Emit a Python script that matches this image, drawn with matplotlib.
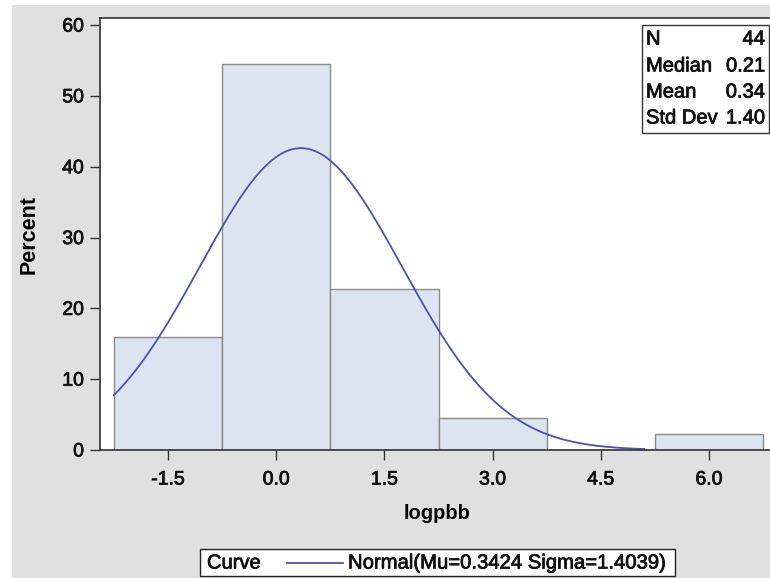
import numpy as np
import matplotlib
matplotlib.use("Agg")
import matplotlib.pyplot as plt
import matplotlib.patheffects as pe
from matplotlib.patches import Rectangle
from matplotlib.lines import Line2D

# ---- data ----
bin_centers = [-1.5, 0.0, 1.5, 3.0, 4.5, 6.0]
bin_width = 1.5
percents = [15.91, 54.55, 22.73, 4.55, 0.0, 2.27]
mu = 0.3424
sigma = 1.4039
curve_end = 5.1
stat_labels = ["N", "Median", "Mean", "Std Dev"]
stat_values = ["44", "0.21", "0.34", "1.40"]
xticks = [-1.5, 0.0, 1.5, 3.0, 4.5, 6.0]
xticklabels = ["-1.5", "0.0", "1.5", "3.0", "4.5", "6.0"]
yticks = [0, 10, 20, 30, 40, 50, 60]

plt.rcParams['font.family'] = ['Liberation Sans', 'DejaVu Sans']
heavy = [pe.withStroke(linewidth=0.55, foreground='#111111')]

W, H = 770, 578
fig = plt.figure(figsize=(W / 100, H / 100), dpi=100, facecolor='white')

# gray background panel
fig.patches.append(Rectangle((12 / W, 0), 1, 1 - 5 / H, transform=fig.transFigure,
                             facecolor='#e0e0e0', edgecolor='none', zorder=-10))

L, R, T, B = 100, 775, 18, 450
ax = fig.add_axes([L / W, 1 - B / H, (R - L) / W, (B - T) / H])
ax.set_facecolor('white')

ax.bar(bin_centers, percents, width=bin_width, color='#dbe4f0', edgecolor='#8a8a8a',
       linewidth=1.0, zorder=2)

edges_left = bin_centers[0] - bin_width / 2
xs = np.linspace(edges_left, curve_end, 400)
ys = 100 * bin_width * np.exp(-0.5 * ((xs - mu) / sigma) ** 2) / (sigma * np.sqrt(2 * np.pi))
ax.plot(xs, ys, color='#4b52a8', lw=1.3, zorder=3)

ax.set_xlim(-2.443, 6.915)
ax.set_ylim(0, 61)
ax.set_xticks(xticks)
ax.set_xticklabels(xticklabels)
ax.set_yticks(yticks)

for s in ['left', 'bottom', 'top']:
    ax.spines[s].set_color('#333333')
    ax.spines[s].set_linewidth(1.2)
ax.spines['right'].set_visible(False)
ax.spines['bottom'].set_zorder(5)

ax.tick_params(axis='both', direction='out', length=7.5, width=1.0, color='#333333',
               labelsize=14, labelcolor='#111111')
ax.tick_params(axis='x', pad=8)
ax.tick_params(axis='y', pad=4)
for lbl in ax.get_xticklabels() + ax.get_yticklabels():
    lbl.set_path_effects(heavy)

ax.set_xlabel('logpbb', fontsize=14.5, fontweight='bold', labelpad=11)
ax.set_ylabel('Percent', fontsize=15.5, fontweight='bold', labelpad=16)

# stats box
bx0, by0, bx1, by1 = 642, 25, 769, 133
fig.patches.append(Rectangle((bx0 / W, 1 - by1 / H), (bx1 - bx0) / W, (by1 - by0) / H,
                             transform=fig.transFigure, facecolor='white',
                             edgecolor='#333333', linewidth=1.0, zorder=5))
row_y = [39, 66, 92, 118]
for lab, val, yy in zip(stat_labels, stat_values, row_y):
    fig.text(646 / W, 1 - yy / H, lab, fontsize=14.5, ha='left', va='center', zorder=6,
             color='#111111', path_effects=heavy)
    fig.text(765 / W, 1 - yy / H, val, fontsize=14.5, ha='right', va='center', zorder=6,
             color='#111111', path_effects=heavy)

# legend box
lx0, ly0, lx1, ly1 = 200, 549, 675, 576
fig.patches.append(Rectangle((lx0 / W, 1 - ly1 / H), (lx1 - lx0) / W, (ly1 - ly0) / H,
                             transform=fig.transFigure, facecolor='white',
                             edgecolor='#222222', linewidth=1.0, zorder=5))
fig.text(207 / W, 1 - 563 / H, 'Curve', fontsize=14.5, ha='left', va='center', zorder=6,
         color='#111111', path_effects=heavy)
fig.lines.append(Line2D([287 / W, 343 / W], [1 - 563 / H, 1 - 563 / H],
                        transform=fig.transFigure, color='#4b52a8', lw=1.3, zorder=6))
fig.text(348 / W, 1 - 563 / H, f'Normal(Mu={mu:.4f} Sigma={sigma:.4f})', fontsize=14.6,
         ha='left', va='center', zorder=6, color='#111111', path_effects=heavy)

fig.savefig('out.png', dpi=100, facecolor='white')
